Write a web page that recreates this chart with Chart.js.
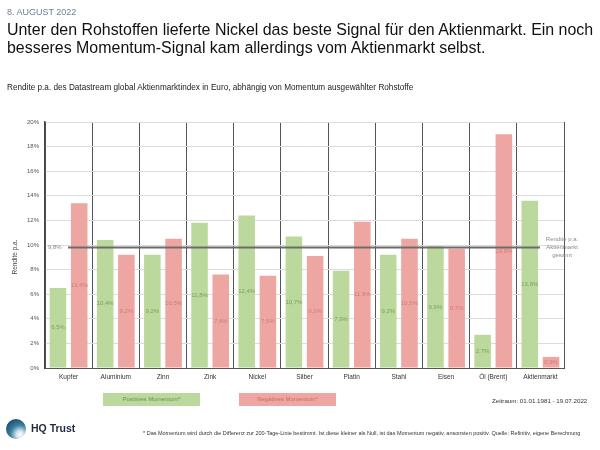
<!DOCTYPE html>
<html>
<head>
<meta charset="utf-8">
<script src="https://cdn.jsdelivr.net/npm/chart.js@4/dist/chart.umd.min.js"></script>
<style>
  html,body{margin:0;padding:0;background:#fff;}
  body{width:600px;height:450px;position:relative;overflow:hidden;font-family:"Liberation Sans",Arial,sans-serif;}
  #c{position:absolute;left:0;top:0;}
  .t{position:absolute;white-space:nowrap;}
</style>
</head>
<body>
<canvas id="c" width="600" height="450"></canvas>
<div class="t" style="left:7px;top:7px;font-size:9px;color:#6d7f98;">8. AUGUST 2022</div>
<div class="t" style="left:7px;top:21px;font-size:15.95px;line-height:18px;color:#111;">Unter den Rohstoffen lieferte Nickel das beste Signal für den Aktienmarkt. Ein noch<br>besseres Momentum-Signal kam allerdings vom Aktienmarkt selbst.</div>
<div class="t" style="left:7px;top:83px;font-size:8.2px;color:#222;">Rendite p.a. des Datastream global Aktienmarktindex in Euro, abhängig von Momentum ausgewählter Rohstoffe</div>
<div class="t" id="lg1" style="left:103px;top:393px;width:97px;height:13px;background:#bcd99d;color:#6f8f4f;font-size:6px;line-height:13px;text-align:center;"></div>
<div class="t" id="lg2" style="left:239px;top:393px;width:97px;height:13px;background:#eea6a2;color:#c86a66;font-size:6px;line-height:13px;text-align:center;"></div>
<div class="t" style="left:492px;top:397px;font-size:6.2px;color:#333;">Zeitraum: 01.01.1981 - 19.07.2022</div>
<div class="t" style="left:6px;top:419px;width:20px;height:20px;border-radius:50%;background:radial-gradient(circle at 70% 78%, #ffffff 0%, #cfe3ec 18%, #3d7f9f 45%, #1b4f6d 80%);"></div>
<div class="t" style="left:31px;top:422px;font-size:10.5px;font-weight:bold;color:#1e2a40;">HQ Trust</div>
<div class="t" style="left:143px;top:430px;font-size:5.5px;color:#333;">* Das Momentum wird durch die Differenz zur 200-Tage-Linie bestimmt. Ist diese kleiner als Null, ist das Momentum negativ, ansonsten positiv. Quelle: Refinitiv, eigene Berechnung</div>
<script>
const categories = ["Kupfer","Aluminium","Zinn","Zink","Nickel","Silber","Platin","Stahl","Eisen","Öl (Brent)","Aktienmarkt"];
const positiveMomentum = [6.5,10.4,9.2,11.8,12.4,10.7,7.9,9.2,9.9,2.7,13.6];
const negativeMomentum = [13.4,9.2,10.5,7.6,7.5,9.1,11.9,10.5,9.7,19.0,0.9];
const seriesNames = ["Positives Momentum*","Negatives Momentum*"];
const marketReturn = 9.8;
const marketLabel = ["Rendite p.a.","Aktienmarkt","gesamt"];
const yTicks = [0,2,4,6,8,10,12,14,16,18,20];
const yTitle = "Rendite p.a.";

document.getElementById('lg1').textContent = seriesNames[0];
document.getElementById('lg2').textContent = seriesNames[1];

const fmt = v => v.toFixed(1).replace('.', ',') + '%';
const FONT = '"Liberation Sans", Arial, sans-serif';

const overlay = {
  id: 'overlay',
  afterDatasetsDraw(chart) {
    const ctx = chart.ctx;
    const ys = chart.scales.y;
    const area = chart.chartArea;
    ctx.save();
    const yy = ys.getPixelForValue(marketReturn);
    ctx.strokeStyle = '#6b6b6b';
    ctx.lineWidth = 2;
    ctx.beginPath();
    ctx.moveTo(area.left + 23, yy);
    ctx.lineTo(area.right - 24, yy);
    ctx.stroke();
    ctx.font = '6px ' + FONT;
    ctx.fillStyle = '#8a8a8a';
    ctx.textBaseline = 'middle';
    ctx.textAlign = 'left';
    ctx.fillText(fmt(marketReturn), area.left + 3, yy);
    ctx.textAlign = 'center';
    marketLabel.forEach((s, i) => ctx.fillText(s, area.right - 2, yy - 8 + i * 8));
    const cols = ['#7aa058', '#d57a75'];
    chart.data.datasets.forEach((ds, di) => {
      const meta = chart.getDatasetMeta(di);
      meta.data.forEach((bar, i) => {
        const v = ds.data[i];
        const mid = (bar.y + bar.base) / 2;
        ctx.fillStyle = cols[di];
        ctx.textAlign = 'center';
        ctx.textBaseline = 'middle';
        ctx.fillText(fmt(v), bar.x, mid);
      });
    });
    ctx.translate(15, 257);
    ctx.rotate(-Math.PI / 2);
    ctx.fillStyle = '#444';
    ctx.font = '6.5px ' + FONT;
    ctx.textAlign = 'center';
    ctx.fillText(yTitle, 0, 0);
    ctx.restore();
  }
};

new Chart(document.getElementById('c'), {
  type: 'bar',
  data: {
    labels: categories,
    datasets: [
      { label: seriesNames[0], data: positiveMomentum, backgroundColor: '#bcd99d', categoryPercentage: 0.9, barPercentage: 0.78 },
      { label: seriesNames[1], data: negativeMomentum, backgroundColor: '#eea6a2', categoryPercentage: 0.9, barPercentage: 0.78 }
    ]
  },
  options: {
    responsive: false,
    animation: false,
    devicePixelRatio: 1,
    layout: { padding: { left: 0, top: 122, right: 36, bottom: 62 } },
    plugins: { legend: { display: false }, tooltip: { enabled: false } },
    scales: {
      x: {
        afterFit(s) { s.height = 20; },
        grid: { offset: true, color: '#555', lineWidth: 1, drawTicks: false },
        border: { color: '#555', width: 1 },
        ticks: { color: '#333', font: { size: 6.5, family: FONT }, padding: 5 }
      },
      y: {
        min: 0, max: 20,
        afterFit(s) { s.width = 45; },
        afterBuildTicks(s) { s.ticks = yTicks.map(v => ({ value: v })); },
        grid: { color: '#dcdcdc', lineWidth: 1, drawTicks: false },
        border: { color: '#444', width: 1.5 },
        ticks: { color: '#555', font: { size: 6, family: FONT }, padding: 6, callback: v => v + '%' }
      }
    }
  },
  plugins: [overlay]
});
</script>
</body>
</html>
